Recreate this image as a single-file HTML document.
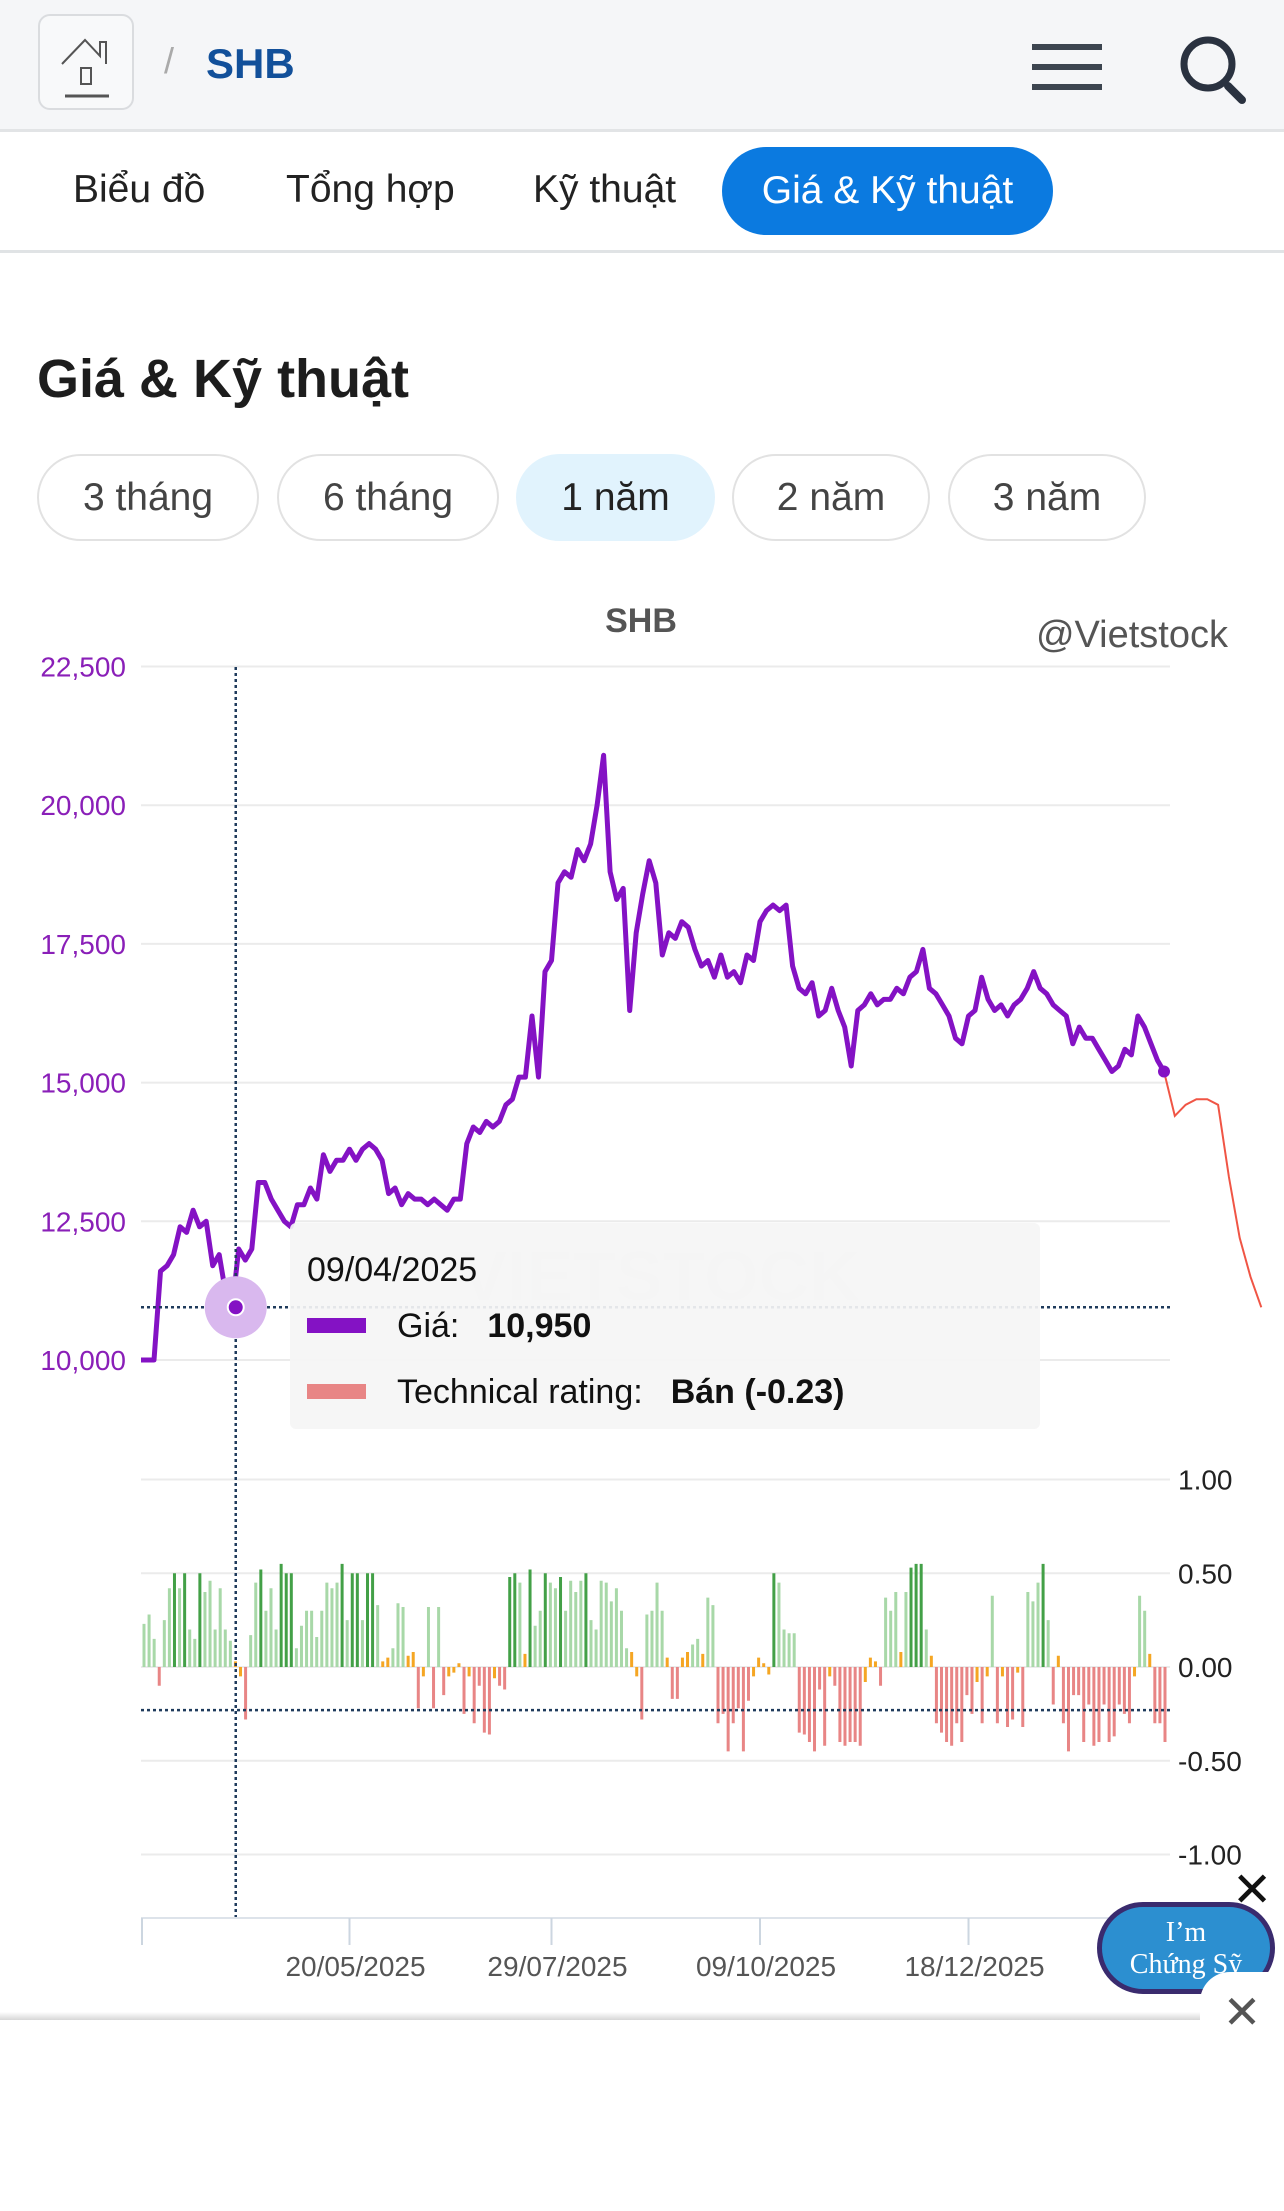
<!DOCTYPE html>
<html><head><meta charset="utf-8">
<style>
*{box-sizing:border-box;margin:0;padding:0}
body{width:1284px;height:2211px;background:#fff;font-family:"Liberation Sans",sans-serif;position:relative;overflow:hidden;color:#222}
.abs{position:absolute}
#header{left:0;top:0;width:1284px;height:132px;background:#f5f6f8;border-bottom:3px solid #e2e4e6}
#home{left:38px;top:14px;width:96px;height:96px;border:2px solid #dadcdf;border-radius:12px;background:#f8f9fa}
.tab{top:160px;font-size:39px;color:#222;line-height:60px}
#active-tab{left:722px;top:147px;width:331px;height:88px;border-radius:44px;background:#0b7ae0;color:#fff;font-size:39px;line-height:88px;text-align:center}
#tabs-border{left:0;top:250px;width:1284px;height:3px;background:#e0e3e5}
.pill{top:454px;height:87px;border:2px solid #e2e2e2;border-radius:44px;font-size:39px;color:#444;line-height:83px;text-align:center}
</style></head>
<body>
<div class="abs" id="header">
  <div class="abs" id="home">
    <svg width="96" height="96" viewBox="0 0 96 96"><path d="M22 48 L45 24 L60 40 L60 26 L66 26 L66 48" fill="none" stroke="#555" stroke-width="2"/><rect x="41" y="52" width="10" height="16" fill="none" stroke="#555" stroke-width="2"/><line x1="25" y1="80" x2="69" y2="80" stroke="#555" stroke-width="3"/></svg>
  </div>
  <div class="abs" style="left:164px;top:40px;font-size:36px;color:#aaa">/</div>
  <div class="abs" style="left:206px;top:40px;font-size:42px;font-weight:bold;color:#12509a">SHB</div>
  <svg class="abs" style="left:1030px;top:42px" width="74" height="50"><rect x="2" y="2" width="70" height="6" fill="#3d4550"/><rect x="2" y="22" width="70" height="6" fill="#3d4550"/><rect x="2" y="42" width="70" height="6" fill="#3d4550"/></svg>
  <svg class="abs" style="left:1176px;top:34px" width="72" height="72"><circle cx="32" cy="30" r="24" fill="none" stroke="#2a3240" stroke-width="7"/><line x1="52" y1="52" x2="66" y2="66" stroke="#2a3240" stroke-width="8" stroke-linecap="round"/></svg>
</div>
<div class="abs tab" style="left:73px">Biểu đồ</div>
<div class="abs tab" style="left:286px">Tổng hợp</div>
<div class="abs tab" style="left:533px">Kỹ thuật</div>
<div class="abs" id="active-tab">Giá &amp; Kỹ thuật</div>
<div class="abs" id="tabs-border"></div>
<div class="abs" style="left:37px;top:348px;font-size:54px;font-weight:bold;color:#1d1d1d">Giá &amp; Kỹ thuật</div>
<div class="abs pill" style="left:37px;width:222px">3 tháng</div>
<div class="abs pill" style="left:277px;width:222px">6 tháng</div>
<div class="abs pill" style="left:516px;width:199px;background:#e1f3fd;border-color:#e1f3fd;color:#222">1 năm</div>
<div class="abs pill" style="left:732px;width:198px">2 năm</div>
<div class="abs pill" style="left:948px;width:198px">3 năm</div>

<svg class="abs" id="chart" style="left:0;top:560px" width="1284" height="1480" viewBox="0 560 1284 1480"></svg>

<div class="abs" style="left:0;top:2012px;width:1284px;height:10px;background:linear-gradient(#fff,#ccc)"></div>
<div class="abs" style="left:0;top:2020px;width:1284px;height:191px;background:#fff"></div>
<div class="abs" style="left:1097px;top:1902px;width:178px;height:92px;border-radius:46px;background:#2c8fd0;border:5px solid #3a2b6e;color:#fff;font-family:'Liberation Serif',serif;font-size:28px;text-align:center;line-height:32px;padding-top:10px">I’m<br>Chứng Sỹ</div>
<div class="abs" style="left:1232px;top:1862px;font-size:48px;color:#111">✕</div>
<div class="abs" style="left:1200px;top:1972px;width:84px;height:80px;background:#fff;border-radius:30px 0 0 0;font-size:46px;color:#555;text-align:center;line-height:80px">✕</div>

<script>
const priceValues=[10000,10000,10000,11600,11700,11900,12400,12300,12700,12400,12500,11700,11900,11200,10950,12000,11800,12000,13200,13200,12900,12700,12500,12400,12800,12800,13100,12900,13700,13400,13600,13600,13800,13600,13800,13900,13800,13600,13000,13100,12800,13000,12900,12900,12800,12900,12800,12700,12900,12900,13900,14200,14100,14300,14200,14300,14600,14700,15100,15100,16200,15100,17000,17200,18600,18800,18700,19200,19000,19300,20000,20900,18800,18300,18500,16300,17700,18400,19000,18600,17300,17700,17600,17900,17800,17400,17100,17200,16900,17300,16900,17000,16800,17300,17200,17900,18100,18200,18100,18200,17100,16700,16600,16800,16200,16300,16700,16300,16000,15300,16300,16400,16600,16400,16500,16500,16700,16600,16900,17000,17400,16700,16600,16400,16200,15800,15700,16200,16300,16900,16500,16300,16400,16200,16400,16500,16700,17000,16700,16600,16400,16300,16200,15700,16000,15800,15800,15600,15400,15200,15300,15600,15500,16200,16000,15700,15400,15200];
const forecastValues=[15200,14400,14600,14700,14700,14600,13300,12200,11500,10950];
const ratingValues=[0.23,0.28,0.15,-0.1,0.25,0.42,0.5,0.42,0.5,0.2,0.15,0.5,0.4,0.46,0.2,0.42,0.2,0.14,0.03,-0.05,-0.28,0.17,0.45,0.52,0.3,0.42,0.2,0.55,0.5,0.5,0.1,0.22,0.3,0.3,0.16,0.3,0.45,0.42,0.45,0.55,0.25,0.5,0.5,0.25,0.5,0.5,0.33,0.03,0.05,0.1,0.34,0.32,0.06,0.08,-0.22,-0.05,0.32,-0.22,0.32,-0.15,-0.05,-0.03,0.02,-0.25,-0.05,-0.3,-0.1,-0.35,-0.36,-0.06,-0.1,-0.12,0.48,0.5,0.45,0.07,0.52,0.22,0.3,0.5,0.45,0.42,0.48,0.3,0.46,0.4,0.46,0.5,0.25,0.2,0.46,0.45,0.35,0.42,0.3,0.1,0.08,-0.05,-0.28,0.28,0.3,0.45,0.3,0.05,-0.17,-0.17,0.05,0.08,0.12,0.15,0.07,0.37,0.33,-0.3,-0.25,-0.45,-0.3,-0.22,-0.45,-0.18,-0.05,0.05,0.02,-0.04,0.5,0.45,0.2,0.18,0.18,-0.35,-0.36,-0.4,-0.45,-0.12,-0.42,-0.05,-0.1,-0.4,-0.42,-0.4,-0.4,-0.42,-0.08,0.05,0.03,-0.1,0.37,0.3,0.4,0.08,0.4,0.53,0.55,0.55,0.2,0.06,-0.3,-0.35,-0.4,-0.42,-0.3,-0.4,-0.15,-0.25,-0.08,-0.3,-0.05,0.38,-0.3,-0.05,-0.32,-0.28,-0.03,-0.32,0.4,0.35,0.45,0.55,0.25,-0.2,0.06,-0.3,-0.45,-0.15,-0.15,-0.4,-0.2,-0.42,-0.4,-0.2,-0.4,-0.37,-0.2,-0.25,-0.3,-0.05,0.38,0.3,0.07,-0.3,-0.3,-0.4];
const priceTicks=[10000,12500,15000,17500,20000,22500];
const priceTickLabels=["10,000","12,500","15,000","17,500","20,000","22,500"];
const ratingTicks=[1,0.5,0,-0.5,-1];
const ratingTickLabels=["1.00","0.50","0.00","-0.50","-1.00"];
const dateLabels=["20/05/2025","29/07/2025","09/10/2025","18/12/2025"];
const dateLabelIndex=[32,63,95,127];
const cursorIndex=15;
const cursorRating=-0.23;

const NS="http://www.w3.org/2000/svg";
const svg=document.getElementById('chart');
const X0=141,X1=1168,XEND=1164;
const yP=v=>1360-(v-10000)/2500*138.7;
const yR=v=>1667-v*187.5;
const xP=i=>X0+i*(XEND-X0)/(priceValues.length-1);
const xR=i=>X0+3+i*(X1-X0-6)/(ratingValues.length-1);
function mk(tag,attrs){const e=document.createElementNS(NS,tag);for(const k in attrs)e.setAttribute(k,attrs[k]);svg.appendChild(e);return e;}

const t1=mk('text',{x:641,y:632,'text-anchor':'middle','font-size':34,'font-weight':'bold',fill:'#555'});t1.textContent='SHB';


const t2=mk('text',{x:1228,y:647,'text-anchor':'end','font-size':38,fill:'#555'});t2.textContent='@Vietstock';



priceTicks.forEach((v,i)=>{
  const g=mk('line',{x1:X0,x2:1170,y1:yP(v),y2:yP(v),stroke:'#ebebeb','stroke-width':2});
  
  
  const t=mk('text',{x:126,y:yP(v)+10,'text-anchor':'end','font-size':28,fill:'#8a1fb8'});t.textContent=priceTickLabels[i];
  
  
});
ratingTicks.forEach((v,i)=>{
  const g=mk('line',{x1:X0,x2:1170,y1:yR(v),y2:yR(v),stroke:'#ebebeb','stroke-width':2});
  
  
  const t=mk('text',{x:1178,y:yR(v)+10,'font-size':28,fill:'#222'});t.textContent=ratingTickLabels[i];
  
  
});
const wm=mk('text',{x:660,y:1300,'text-anchor':'middle','font-size':70,'font-weight':'bold',fill:'#eef0f3'});wm.textContent='VIETSTOCK';



ratingValues.forEach((v,i)=>{
  let c=v<0?'#e88585':(v>=0.48?'#43a047':'#a8d8a8');
  if(Math.abs(v)<0.09)c='#f5a623';
  const y=yR(Math.max(v,0)),h=Math.abs(yR(v)-yR(0));
  const r=mk('rect',{x:xR(i)-1.5,y:y,width:3,height:Math.max(h,1),fill:c});
  
  
});
const hr=mk('line',{x1:X0,x2:1170,y1:yR(cursorRating),y2:yR(cursorRating),stroke:'#1f3b5c','stroke-width':2.5,'stroke-dasharray':'3 3'});



let d='';priceValues.forEach((v,i)=>{d+=(i?'L':'M')+xP(i).toFixed(1)+' '+yP(v).toFixed(1)});
const pl=mk('path',{d:d,fill:'none',stroke:'#8412c4','stroke-width':5,'stroke-linejoin':'round'});


const step=(XEND-X0)/(priceValues.length-1);
let fd='';forecastValues.forEach((v,i)=>{fd+=(i?'L':'M')+(XEND+i*step*1.66).toFixed(1)+' '+yP(v).toFixed(1)});
const fl=mk('path',{d:fd,fill:'none',stroke:'#f05545','stroke-width':2});


const endDot=mk('circle',{cx:xP(priceValues.length-1),cy:yP(priceValues[priceValues.length-1]),r:6,fill:'#8412c4'});



const cx=xP(cursorIndex)-3,cy=yP(10950);
const vl=mk('line',{x1:cx,x2:cx,y1:667,y2:1918,stroke:'#1f3b5c','stroke-width':2.5,'stroke-dasharray':'3 3'});


const hl=mk('line',{x1:X0,x2:1170,y1:cy,y2:cy,stroke:'#1f3b5c','stroke-width':2.5,'stroke-dasharray':'3 3'});


const halo=mk('circle',{cx:cx,cy:cy,r:31,fill:'#d9b8ee'});


const dot=mk('circle',{cx:cx,cy:cy,r:8,fill:'#8412c4',stroke:'#fff','stroke-width':2});



const ax=mk('line',{x1:X0,x2:1170,y1:1918,y2:1918,stroke:'#dde3ea','stroke-width':2});


const t0=mk('line',{x1:X0+1,x2:X0+1,y1:1918,y2:1945,stroke:'#ccd6e0','stroke-width':2});


dateLabels.forEach((s,i)=>{
  const x=xP(dateLabelIndex[i]);
  const tk=mk('line',{x1:x,x2:x,y1:1918,y2:1945,stroke:'#ccd6e0','stroke-width':2});
  
  
  const t=mk('text',{x:x+6,y:1976,'text-anchor':'middle','font-size':28,fill:'#555'});t.textContent=s;
  
  
});

const tb=mk('rect',{x:290,y:1223,width:750,height:206,rx:6,fill:'rgba(245,245,245,0.92)'});


const td=mk('text',{x:307,y:1281,'font-size':34,fill:'#111'});td.textContent='09/04/2025';


const s1=mk('rect',{x:307,y:1318,width:59,height:15,fill:'#8412c4'});


const l1=mk('text',{x:397,y:1337,'font-size':34,fill:'#111'});l1.innerHTML='Giá:<tspan dx="28" font-weight="bold">10,950</tspan>';


const s2=mk('rect',{x:307,y:1384,width:59,height:15,fill:'#e88585'});


const l2=mk('text',{x:397,y:1403,'font-size':34,fill:'#111'});l2.innerHTML='Technical rating:<tspan dx="28" font-weight="bold">Bán (-0.23)</tspan>';


</script>
</body></html>
